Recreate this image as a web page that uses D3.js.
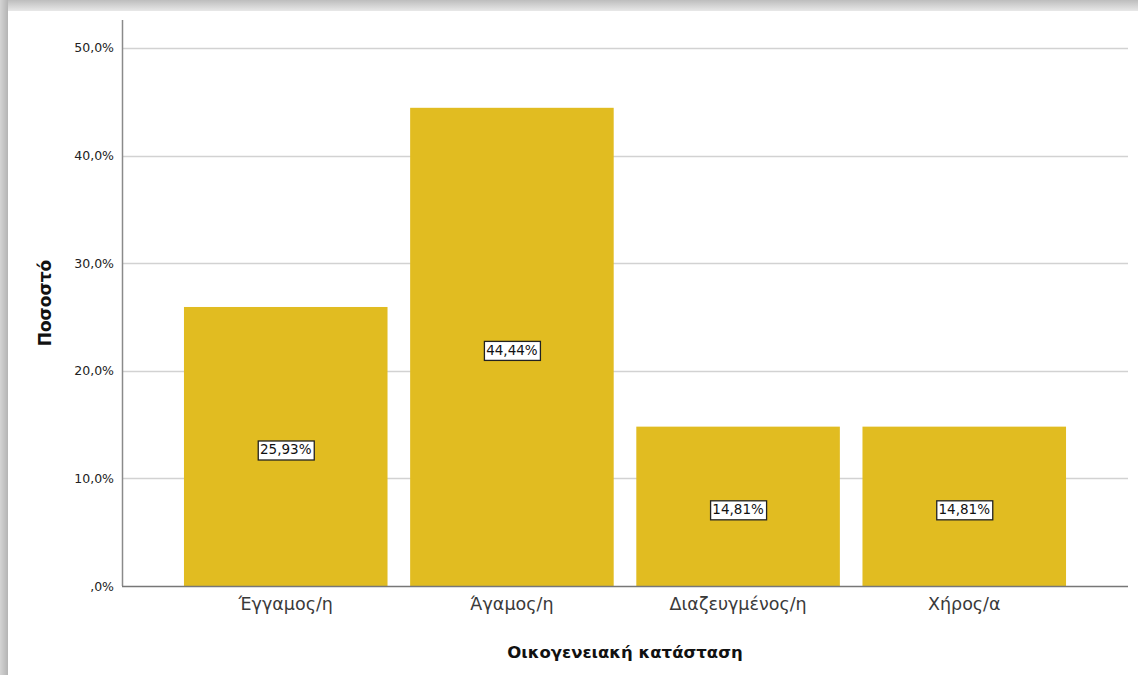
<!DOCTYPE html>
<html>
<head>
<meta charset="utf-8">
<script src="https://cdn.jsdelivr.net/npm/d3@7"></script>
<style>
  html, body { margin: 0; padding: 0; background: #fff; }
  svg { display: block; }
</style>
</head>
<body>
<svg id="chart" width="1138" height="675"></svg>
<script>
// Marital status distribution (percent of respondents)
const categories = ["Έγγαμος/η", "Άγαμος/η", "Διαζευγμένος/η", "Χήρος/α"];
const percents = [25.93, 44.44, 14.81, 14.81];
const yTicks = [0, 10, 20, 30, 40, 50];
const yTickLabels = [",0%", "10,0%", "20,0%", "30,0%", "40,0%", "50,0%"];

const svg = d3.select("#chart");
const W = 1138, H = 675;

// Drop-shadow frame along the top and left edges
const defs = svg.append("defs");
const gTop = defs.append("linearGradient").attr("id", "shTop").attr("x1", 0).attr("y1", 0).attr("x2", 0).attr("y2", 1);
gTop.append("stop").attr("offset", "0%").attr("stop-color", "#bdbdbd");
gTop.append("stop").attr("offset", "100%").attr("stop-color", "#e8e8e8");
const gLeft = defs.append("linearGradient").attr("id", "shLeft").attr("x1", 0).attr("y1", 0).attr("x2", 1).attr("y2", 0);
gLeft.append("stop").attr("offset", "0%").attr("stop-color", "#d4d4d4");
gLeft.append("stop").attr("offset", "100%").attr("stop-color", "#b4b4b4");

svg.append("rect").attr("x", 0).attr("y", 0).attr("width", W).attr("height", H).attr("fill", "#fff");
svg.append("rect").attr("x", 0).attr("y", 0).attr("width", W).attr("height", 11).attr("fill", "url(#shTop)");
svg.append("rect").attr("x", 0).attr("y", 0).attr("width", 8).attr("height", H).attr("fill", "url(#shLeft)");

const plotLeft = 122, plotRight = 1128, plotTop = 20, plotBottom = 586;

const x = d3.scaleBand()
  .domain(categories)
  .range([plotLeft, plotRight])
  .paddingInner(0.1)
  .paddingOuter(0.274);

const y = d3.scaleLinear().domain([0, 52.6]).range([plotBottom, plotTop]);

// Horizontal gridlines
svg.append("g")
  .selectAll("line")
  .data(yTicks.filter(d => d > 0))
  .join("line")
  .attr("x1", plotLeft).attr("x2", plotRight)
  .attr("y1", d => Math.round(y(d)) + 0.5).attr("y2", d => Math.round(y(d)) + 0.5)
  .attr("stroke", "#d2d2d2").attr("stroke-width", 1.5);

// Bars
svg.append("g")
  .selectAll("rect")
  .data(percents)
  .join("rect")
  .attr("x", (d, i) => x(categories[i]))
  .attr("y", d => y(d))
  .attr("width", x.bandwidth())
  .attr("height", d => plotBottom - y(d))
  .attr("fill", "#e1bc21");

// Y axis
const yAxis = d3.axisLeft(y)
  .tickValues(yTicks)
  .tickFormat((d, i) => yTickLabels[i])
  .tickSize(0)
  .tickPadding(8);
const ya = svg.append("g").attr("transform", `translate(${plotLeft},0)`).call(yAxis);
ya.select(".domain").remove();
ya.selectAll("text")
  .attr("font-family", "'DejaVu Sans', sans-serif")
  .attr("font-size", 12.5)
  .attr("fill", "#222");
svg.append("line")
  .attr("x1", plotLeft + 0.5).attr("x2", plotLeft + 0.5)
  .attr("y1", plotTop).attr("y2", plotBottom)
  .attr("stroke", "#8a8a8a").attr("stroke-width", 1.5);

// X axis
const xAxis = d3.axisBottom(x).tickSize(0).tickPadding(12);
const xa = svg.append("g").attr("transform", `translate(0,${plotBottom})`).call(xAxis);
xa.select(".domain").remove();
xa.selectAll("text")
  .attr("font-family", "'DejaVu Sans', sans-serif")
  .attr("font-size", 17.5)
  .attr("fill", "#3a3a3a");
svg.append("line")
  .attr("x1", plotLeft).attr("x2", plotRight)
  .attr("y1", plotBottom + 0.5).attr("y2", plotBottom + 0.5)
  .attr("stroke", "#777").attr("stroke-width", 1.5);

// Value labels in boxes at mid-height of each bar
const lbl = svg.append("g")
  .selectAll("g")
  .data(percents)
  .join("g")
  .attr("transform", (d, i) => `translate(${x(categories[i]) + x.bandwidth() / 2},${y(d / 2) + 3})`);
lbl.append("text")
  .attr("text-anchor", "middle")
  .attr("dy", "0.36em")
  .attr("font-family", "'DejaVu Sans', sans-serif")
  .attr("font-size", 13.5)
  .attr("fill", "#111")
  .text(d => d.toFixed(2).replace(".", ",") + "%");
lbl.each(function () {
  const g = d3.select(this);
  const bb = g.select("text").node().getBBox();
  g.insert("rect", "text")
    .attr("x", Math.round(bb.x - 2) + 0.5)
    .attr("y", Math.round(bb.y - 1) + 0.5)
    .attr("width", Math.round(bb.width + 4))
    .attr("height", Math.round(bb.height + 3))
    .attr("fill", "#fff")
    .attr("stroke", "#222")
    .attr("stroke-width", 1.3);
});

// Axis titles
svg.append("text")
  .attr("x", (plotLeft + plotRight) / 2)
  .attr("y", 658)
  .attr("text-anchor", "middle")
  .attr("font-family", "'DejaVu Sans', sans-serif")
  .attr("font-weight", "bold")
  .attr("font-size", 16.5)
  .attr("fill", "#111")
  .text("Οικογενειακή κατάσταση");

svg.append("text")
  .attr("transform", `translate(51,${(plotTop + plotBottom) / 2}) rotate(-90)`)
  .attr("text-anchor", "middle")
  .attr("font-family", "'DejaVu Sans', sans-serif")
  .attr("font-weight", "bold")
  .attr("font-size", 17)
  .attr("fill", "#111")
  .text("Ποσοστό");
</script>
</body>
</html>
